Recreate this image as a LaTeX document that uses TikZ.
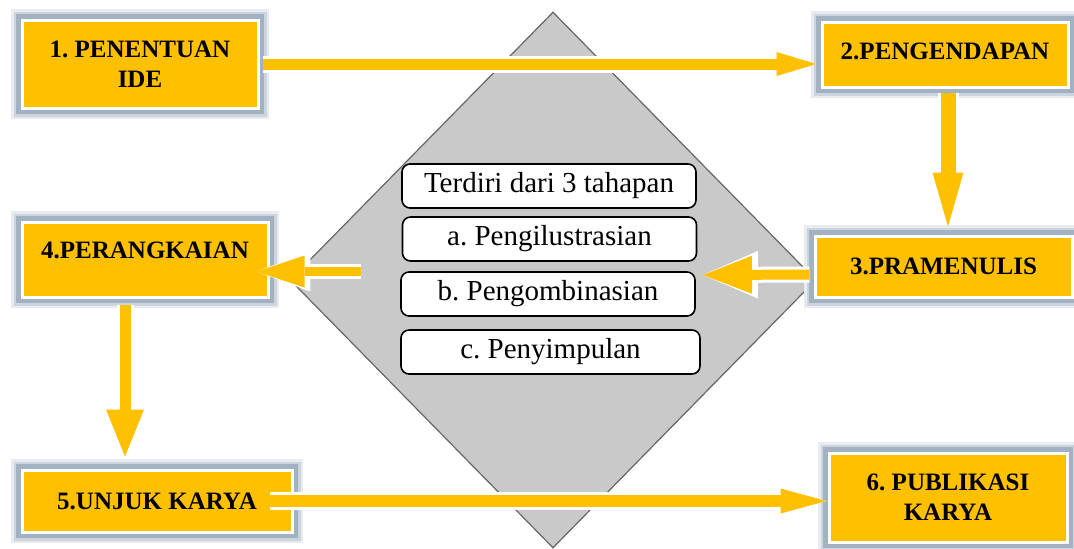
\documentclass[tikz,border=0pt]{standalone}
\usepackage{fontspec}
\setmainfont{Liberation Serif}
\usetikzlibrary{arrows.meta,shapes.geometric}

\definecolor{gold}{HTML}{FFC000}
\definecolor{glow}{HTML}{A3B2C3}
\definecolor{slab}{HTML}{C9C9C9}

\tikzset{
  phase/.style={fill=gold, draw=white, line width=1.5pt, inner sep=0pt, align=center,
    font=\bfseries\fontsize{12.5}{15}\selectfont,
    preaction={draw=glow!25, line width=11pt, rounded corners=4pt},
    preaction={draw=glow!55, line width=8.5pt, rounded corners=3pt},
    preaction={draw=glow, line width=6pt, rounded corners=2pt}},
  stage/.style={draw=black, fill=white, rounded corners=4pt, line width=0.8pt,
    minimum width=147pt, minimum height=22pt, inner sep=0pt,
    font=\fontsize{14.5}{16}\selectfont},
  flow/.style n args={3}{draw=gold, line width=#1,
    -{Triangle[length=#2, width=#3, line width=0pt]},
    preaction={draw=white, line width=#1+3pt,
      -{Triangle[length=#2, width=#3, line width=0pt, scale length=1.12, scale width=1.25, color=white, fill=white]}}},
}

\begin{document}
\frenchspacing
\begin{tikzpicture}[x=0.5pt, y=-0.5pt]
  \useasboundingbox (0,0) rectangle (1074,548);

  % the grey diamond in the middle
  \node[diamond, fill=slab, draw=gray!80!black, line width=0.6pt, inner sep=0pt,
        minimum width=263pt, minimum height=268pt] (core) at (553,280) {};

  % the six phases
  \node[phase, minimum width=118pt, minimum height=44pt] (b1) at (140,64) {1. PENENTUAN\\IDE};
  \node[phase, minimum width=123pt, minimum height=32.5pt, text depth=3pt] (b2) at (945,54.5) {2.PENGENDAPAN};
  \node[phase, minimum width=128.5pt, minimum height=30.5pt] (b3) at (943.5,266.5) {3.PRAMENULIS};
  \node[phase, minimum width=123pt, minimum height=37.5pt, text depth=9pt] (b4) at (145,259.5) {4.PERANGKAIAN};
  \node[phase, minimum width=135pt, minimum height=31pt] (b5) at (157,501) {5.UNJUK KARYA};
  \node[phase, minimum width=119pt, minimum height=44.5pt] (b6) at (948,497.5) {6. PUBLIKASI\\KARYA};

  % the three steps inside
  \node[stage] (t0) at (549,186) {Terdiri dari 3 tahapan};
  \node[stage] (t1) at (549.5,239) {a. Pengilustrasian};
  \node[stage] (t2) at (548,294) {b. Pengombinasian};
  \node[stage, minimum width=149.5pt] (t3) at (550.5,352) {c. Penyimpulan};

  % free ends of the two short arrows
  \coordinate (inR) at (703,275);
  \coordinate (inL) at (361,271.5);

  % connectors
  \draw[flow={5.5pt}{20pt}{12pt}, shorten <=1.5pt, shorten >=2pt] (b1.east) -- (b1.east -| b2.west);
  \draw[flow={7.5pt}{27pt}{15.5pt}, shorten <=2pt, shorten >=4pt] ([xshift=1.5pt]b2.south) -- ([xshift=1.5pt]b2.south |- b3.north);
  \draw[flow={5pt}{24.5pt}{19pt}, shorten <=2pt] ([yshift=-4pt]b3.west) -- (inR);
  \draw[flow={4.5pt}{24pt}{16pt}, shorten >=-6.5pt] (inL) -- (inL -| b4.east);
  \draw[flow={5.5pt}{23.5pt}{19pt}, shorten <=3pt, shorten >=6pt] ([xshift=-10pt]b4.south) -- ([xshift=-10pt]b4.south |- b5.north);
  \draw[flow={6pt}{23pt}{12.5pt}, shorten <=-12pt, shorten >=0.5pt] (b5.east) -- (b5.east -| b6.west);
\end{tikzpicture}
\end{document}
